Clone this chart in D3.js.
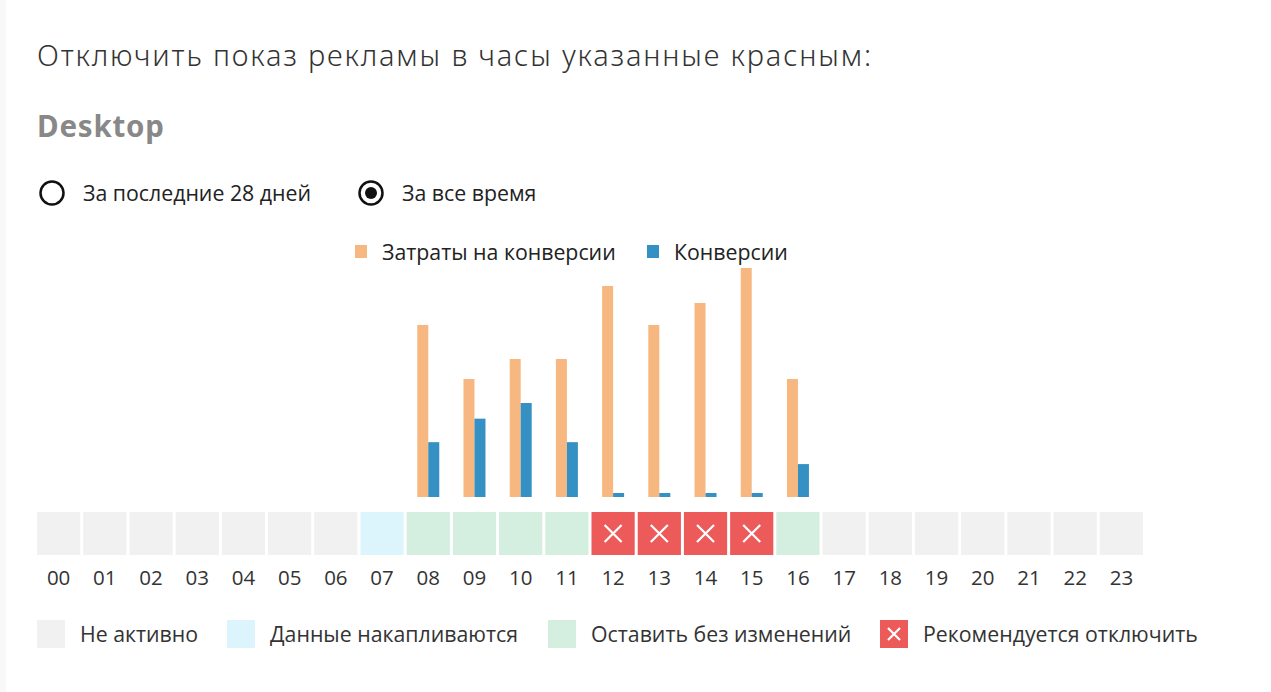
<!DOCTYPE html>
<html>
<head>
<meta charset="utf-8">
<script src="https://cdn.jsdelivr.net/npm/d3@7"></script>
<style>
  body { margin: 0; background: #fff; }
  svg { display: block; font-family: "Open Sans", sans-serif; }
</style>
</head>
<body>
<svg id="chart" width="1271" height="692"></svg>
<script>
// hours of the day
var hours = d3.range(24).map(h => (h < 10 ? "0" : "") + h)
// cost per conversion (estimated, bar heights)
var costHours = ["08", "09", "10", "11", "12", "13", "14", "15", "16"]
var costValues = [172, 118, 138, 138, 211, 172, 194, 229, 118]
// conversions
var convValues = [7, 10, 12, 7, 0, 0, 0, 0, 4.2]
// status of each hour: 0 not active, 1 collecting, 2 keep, 3 switch off
var hourStatus = [0,0,0,0,0,0,0,1,2,2,2,2,3,3,3,3,2,0,0,0,0,0,0,0]
var statusLabels = ["Не активно", "Данные накапливаются", "Оставить без изменений", "Рекомендуется отключить"]
var seriesLabels = ["Затраты на конверсии", "Конверсии"]

var statusColors = ["#f1f1f1", "#dcf4fb", "#d4eee0", "#ec5a5a"]
var seriesColors = ["#f6b880", "#3590c4"]
var textSize = 21.3

var svg = d3.select("#chart")

// faint left edge
svg.append("rect").attr("x", 0).attr("y", 0).attr("width", 6).attr("height", 692).attr("fill", "#f8f8f8")

svg.append("text")
   .attr("x", 37).attr("y", 66)
   .attr("font-family", "'Noto Sans', sans-serif")
   .attr("font-weight", 300)
   .attr("font-size", 29)
   .attr("fill", "#333")
   .attr("textLength", 834)
   .attr("lengthAdjust", "spacing")
   .text("Отключить показ рекламы в часы указанные красным:")

svg.append("text")
   .attr("x", 37).attr("y", 137)
   .attr("font-family", "'Noto Sans', sans-serif")
   .attr("font-weight", 700)
   .attr("font-size", 29.5)
   .attr("fill", "#888")
   .attr("textLength", 127)
   .attr("lengthAdjust", "spacing")
   .text("Desktop")

// radio buttons
var radios = [{label: "За последние 28 дней", x: 52, on: false}, {label: "За все время", x: 371, on: true}]
var rg = svg.selectAll(".radio").data(radios).join("g").attr("class", "radio")
   .attr("transform", d => "translate(" + d.x + ",193)")
rg.append("circle").attr("r", 11.5).attr("fill", "#fff").attr("stroke", "#111").attr("stroke-width", 2.5)
rg.filter(d => d.on).append("circle").attr("r", 6).attr("fill", "#111")
rg.append("text").attr("x", 31).attr("y", 7.5).attr("font-size", textSize).attr("fill", "#222").text(d => d.label)

// scales
var x = d3.scaleBand().domain(hours).range([37, 1143]).paddingInner(0.065).paddingOuter(0)
var baseY = 497
var yCost = d3.scaleLinear().domain([0, d3.max(costValues)]).range([baseY, 268])
var yConv = d3.scaleLinear().domain([0, d3.max(convValues)]).range([baseY, 403])
var barW = 11

var bars = svg.append("g")
bars.selectAll(".cost").data(costHours).join("rect").attr("class", "cost")
   .attr("x", d => x(d) + x.bandwidth() / 2 - barW)
   .attr("y", (d, i) => yCost(costValues[i]))
   .attr("width", barW)
   .attr("height", (d, i) => baseY - yCost(costValues[i]))
   .attr("fill", seriesColors[0])
bars.selectAll(".conv").data(costHours).join("rect").attr("class", "conv")
   .attr("x", d => x(d) + x.bandwidth() / 2)
   .attr("y", (d, i) => Math.min(baseY - 4, yConv(convValues[i])))
   .attr("width", barW)
   .attr("height", (d, i) => Math.max(4, baseY - yConv(convValues[i])))
   .attr("fill", seriesColors[1])

// series legend
var sl = svg.selectAll(".slegend").data(seriesLabels).join("g").attr("class", "slegend")
   .attr("transform", (d, i) => "translate(" + [355, 647][i] + ",245)")
sl.append("rect").attr("width", 12).attr("height", 13).attr("fill", (d, i) => seriesColors[i])
sl.append("text").attr("x", 27).attr("y", 14.5).attr("font-size", textSize).attr("fill", "#222").text(d => d)

// hour cells
var cells = svg.selectAll(".cell").data(hours).join("g").attr("class", "cell")
   .attr("transform", d => "translate(" + x(d) + ",512)")
cells.append("rect").attr("width", x.bandwidth()).attr("height", 43)
   .attr("fill", (d, i) => statusColors[hourStatus[i]])

function drawCross(g, cx, cy, s) {
   g.append("path")
      .attr("d", "M" + (cx - s) + "," + (cy - s) + "L" + (cx + s) + "," + (cy + s) +
                 "M" + (cx + s) + "," + (cy - s) + "L" + (cx - s) + "," + (cy + s))
      .attr("stroke", "#fff").attr("stroke-width", 2.2).attr("fill", "none")
}
cells.filter((d, i) => hourStatus[i] === 3).each(function() {
   drawCross(d3.select(this), x.bandwidth() / 2, 21.5, 8.5)
})

var xAxis = d3.axisBottom(x).tickSize(0).tickPadding(0)
var ax = svg.append("g").attr("transform", "translate(0,570)").call(xAxis)
ax.select(".domain").remove()
ax.selectAll("text").attr("font-size", 20.5).attr("fill", "#333").attr("font-family", "'Open Sans', sans-serif")

// status legend
var legX = [37, 227, 548, 880]
var lg = svg.selectAll(".glegend").data(statusLabels).join("g").attr("class", "glegend")
   .attr("transform", (d, i) => "translate(" + legX[i] + ",620)")
lg.append("rect").attr("width", 28).attr("height", 28).attr("fill", (d, i) => statusColors[i])
lg.filter((d, i) => i === 3).each(function() { drawCross(d3.select(this), 14, 14, 6) })
lg.append("text").attr("x", 43).attr("y", 21.5).attr("font-size", textSize).attr("fill", "#333").text(d => d)
</script>
</body>
</html>
